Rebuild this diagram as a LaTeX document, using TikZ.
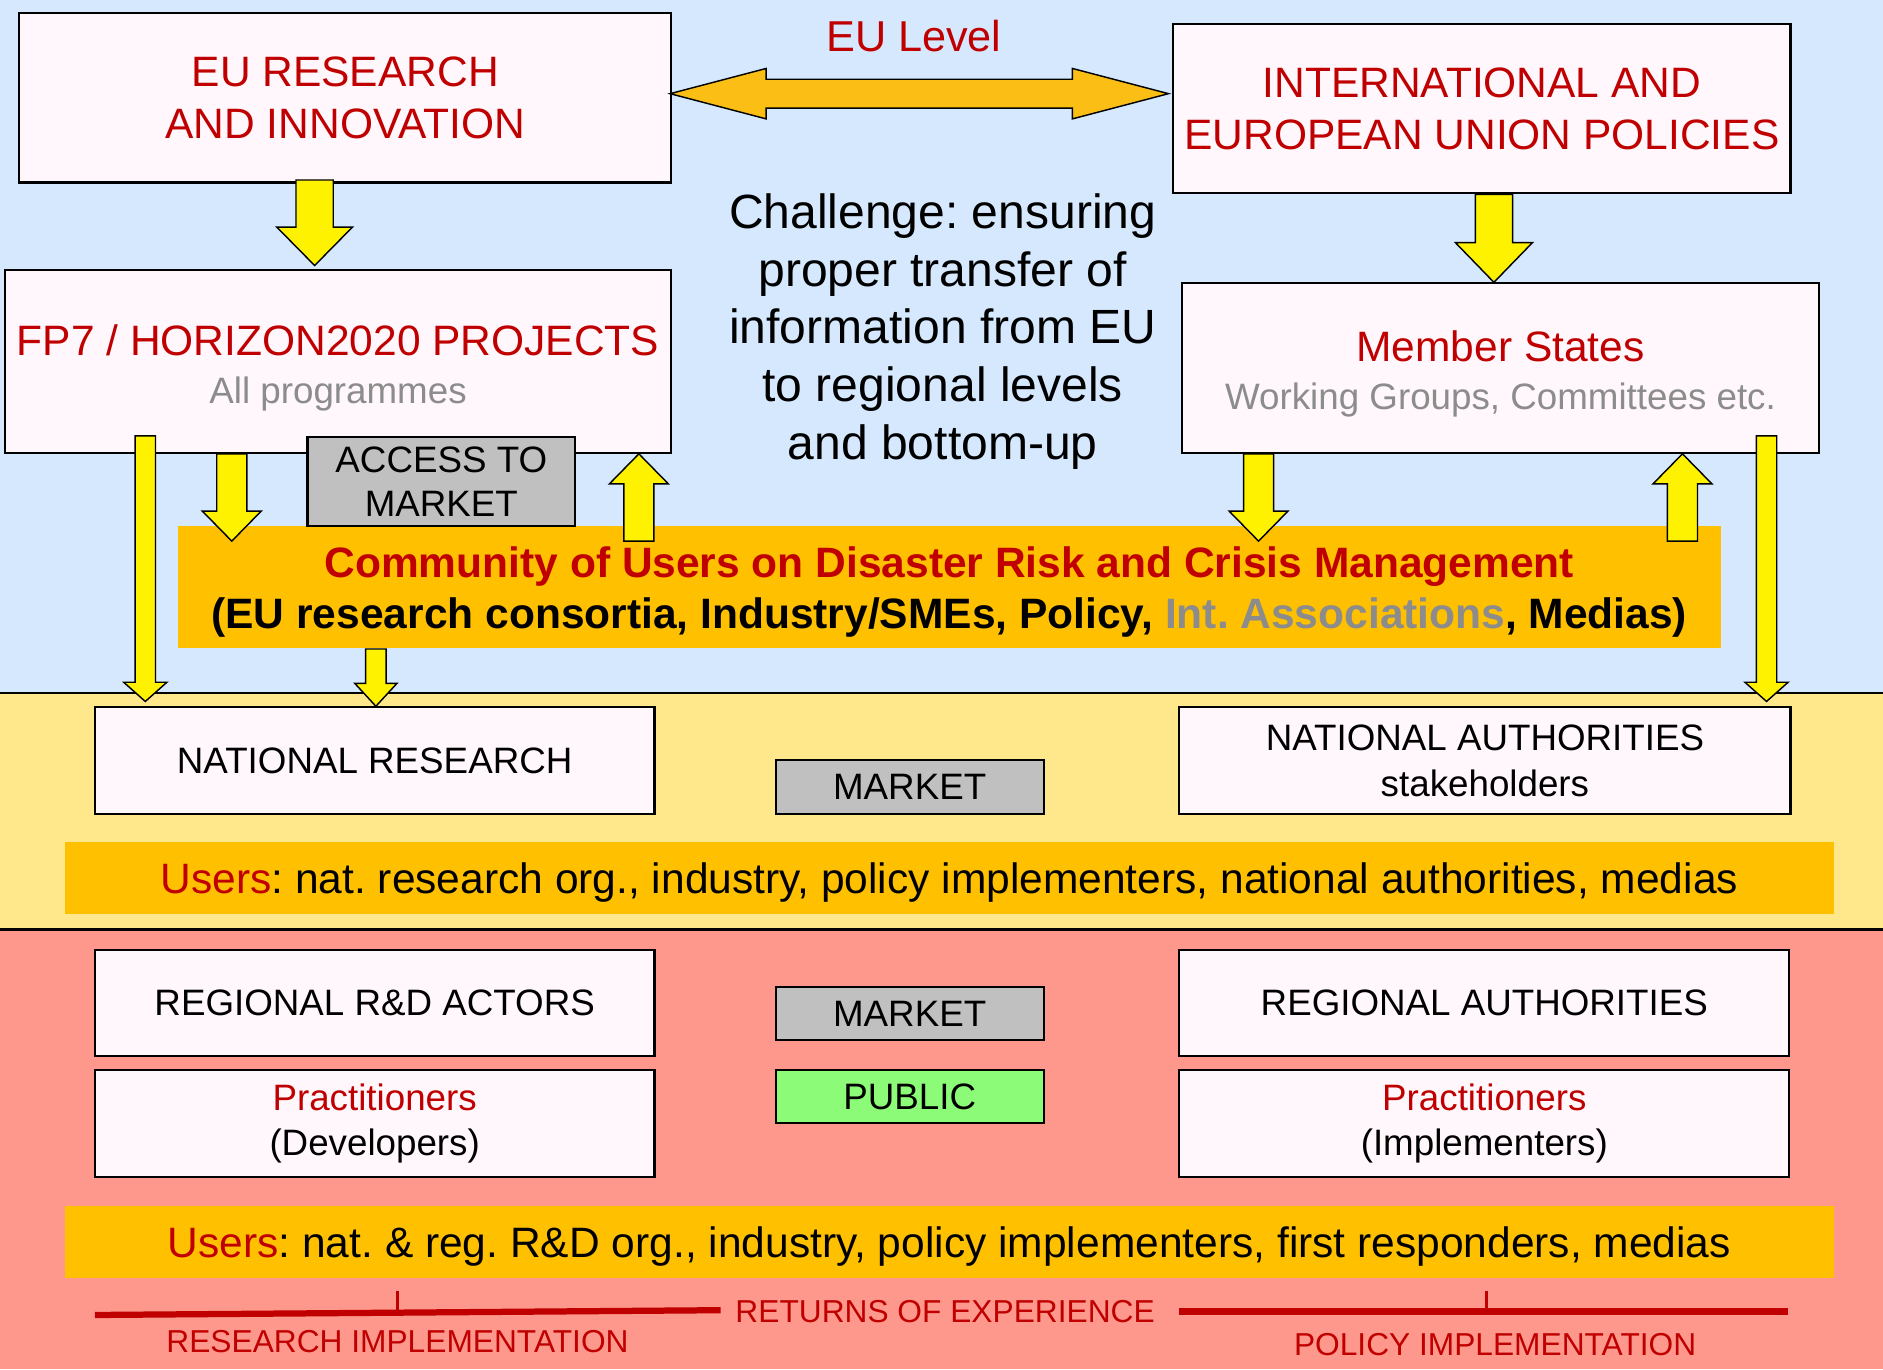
\documentclass[tikz,border=0pt]{standalone}
\usepackage{fontspec}
\setmainfont{Liberation Sans}
\usetikzlibrary{calc}
\frenchspacing
\definecolor{bgblue}{RGB}{213,232,253}
\definecolor{bgyel}{RGB}{255,232,140}
\definecolor{bgred}{RGB}{255,152,140}
\definecolor{boxfill}{RGB}{255,247,252}
\definecolor{dred}{RGB}{192,0,0}
\definecolor{bandcol}{RGB}{255,192,0}
\definecolor{dblcol}{RGB}{250,190,20}
\definecolor{gboxcol}{RGB}{192,192,192}
\definecolor{gtxt}{RGB}{140,140,140}
\definecolor{pgreen}{RGB}{140,252,120}
\newcommand\varrow[6]{%
 \path[barrow] let \p0=(#1,0), \p1=#2, \p2=#3, \n1={ifthenelse(\y2>\y1,1,-1)} in
 (\x0-#4,\y1) -- (\x0-#4,\y2-\n1*#6) -- (\x0-#5,\y2-\n1*#6) -- (\x0,\y2)
 -- (\x0+#5,\y2-\n1*#6) -- (\x0+#4,\y2-\n1*#6) -- (\x0+#4,\y1) -- cycle;}
\begin{document}
\begin{tikzpicture}[x=0.5pt,y=-0.5pt,
 box/.style={draw=black, line width=0.9pt, fill=boxfill, inner sep=0pt, align=center,
   font=\fontsize{15.3}{19}\selectfont},
 title/.style={font=\fontsize{17.7}{21.5}\selectfont, text=dred},
 graybox/.style={box, fill=gboxcol},
 bandbox/.style={fill=bandcol, inner sep=0pt},
 txt/.style={inner sep=0pt, align=center},
 barrow/.style={fill=yellow, draw=black, line width=0.6pt, line join=miter},
 dblarrow/.style={fill=dblcol, draw=black, line width=0.6pt},
 redline/.style={draw=dred, line width=2.6pt},
 redtick/.style={draw=dred, line width=1.1pt},
 redlabel/.style={text=dred, inner sep=1pt, font=\fontsize{13.2}{15}\selectfont}]
\useasboundingbox (0,0) rectangle (1568,1140);
% backgrounds
\fill[bgblue] (0,0) rectangle (1568,577);
\fill[bgyel] (0,577) rectangle (1568,774);
\fill[bgred] (0,774) rectangle (1568,1140);
\draw[line width=1pt] (0,577) -- (1568,577);
\draw[line width=1pt] (0,774) -- (1568,774);
% EU level
\node[box, title, minimum width=271.5pt, minimum height=70.5pt] (eu) at (287.5,81.5) {EU RESEARCH\\AND INNOVATION};
\node[box, title, minimum width=257pt, minimum height=70.5pt] (intl) at (1234,90.5) {INTERNATIONAL AND\\EUROPEAN UNION POLICIES};
\node[text=dred, font=\fontsize{18}{21}\selectfont] (eulevel) at (761,30) {EU Level};
\coordinate (dal) at (558,78);
\coordinate (dar) at (973,78);
\path[dblarrow] (dal) -- (638,57) -- (638,66) -- (893,66) -- (893,57) -- (dar)
  -- (893,99) -- (893,90) -- (638,90) -- (638,99) -- cycle;
\node[box, minimum width=277.5pt, minimum height=76pt] (fp7) at (281.5,301) {};
\node[txt, font=\fontsize{15.3}{20}\selectfont] (fp7txt) at ([yshift=-2.5pt]fp7.center)
  {{\color{dred}\fontsize{17.7}{20}\selectfont FP7 / HORIZON2020 PROJECTS}\\{\color{gtxt}All programmes}};
\node[box, minimum width=265.5pt, minimum height=70.5pt] (ms) at (1249.5,306.5) {};
\node[txt, font=\fontsize{15.3}{20}\selectfont] (mstxt) at ([yshift=-2.5pt]ms.center)
  {{\color{dred}\fontsize{17.7}{20}\selectfont Member States}\\{\color{gtxt}Working Groups, Committees etc.}};
\node[align=center, font=\fontsize{20}{24}\selectfont] (challenge) at (785,276)
  {Challenge: ensuring\\proper transfer of\\information from EU\\to regional levels\\and bottom-up};
\varrow{262}{([yshift=1.5pt]eu.south)}{([yshift=1.5pt]fp7.north)}{7.75pt}{15.75pt}{16pt}
\varrow{1244}{(intl.south)}{(ms.north)}{7.75pt}{16pt}{16.5pt}
% community band
\node[bandbox, minimum width=642.5pt, minimum height=51pt] (comm) at (790.5,489) {};
\node[txt, font=\fontsize{17.7}{21.5}\selectfont\bfseries] (commtxt) at ([yshift=-2pt]comm.center)
  {{\color{dred}Community of Users on Disaster Risk and Crisis Management}\\(EU research consortia, Industry/SMEs, Policy, {\color{gtxt}Int. Associations}, Medias)};
\node[graybox, minimum width=111.5pt, minimum height=37pt, font=\fontsize{15.3}{18}\selectfont] (access) at (367.5,401) {ACCESS TO\\MARKET};
\varrow{193}{(fp7.south)}{([yshift=-6.5pt]comm.north)}{6.25pt}{12.25pt}{12.5pt}
\varrow{532}{([yshift=-6.5pt]comm.north)}{(fp7.south)}{6.25pt}{12.25pt}{12.5pt}
\varrow{1048}{(ms.south)}{([yshift=-6.5pt]comm.north)}{6.25pt}{12.25pt}{12.5pt}
\varrow{1401}{([yshift=-6.5pt]comm.north)}{(ms.south)}{6.25pt}{12.25pt}{12.5pt}
% national level
\node[box, minimum width=233pt, minimum height=44.5pt] (natres) at (312,633.5) {NATIONAL RESEARCH};
\node[graybox, minimum width=111.5pt, minimum height=22.5pt] (market1) at (757.5,655.5) {MARKET};
\node[box, minimum width=254.5pt, minimum height=44.5pt] (natauth) at (1236.5,633.5) {NATIONAL AUTHORITIES\\stakeholders};
\varrow{121}{([yshift=7.5pt]fp7.south)}{([yshift=2pt]natres.north)}{4.25pt}{9pt}{8pt}
\varrow{1471}{([yshift=7.5pt]ms.south)}{([yshift=2pt]natauth.north)}{4.25pt}{9pt}{8pt}
\varrow{313}{(comm.south)}{(natres.north)}{4.25pt}{8.75pt}{9.5pt}
\node[bandbox, minimum width=736.5pt, minimum height=30pt] (users1) at (790.5,731) {};
\node[txt, font=\fontsize{17.7}{20}\selectfont] (users1txt) at ([yshift=-2pt]users1.center)
  {{\color{dred}Users}: nat. research org., industry, policy implementers, national authorities, medias};
% regional level
\node[box, minimum width=233pt, minimum height=44pt] (regrd) at (312,835) {REGIONAL R\&D ACTORS};
\node[graybox, minimum width=111.5pt, minimum height=22pt] (market2) at (757.5,844) {MARKET};
\node[box, minimum width=254pt, minimum height=44pt] (regauth) at (1236,835) {REGIONAL AUTHORITIES};
\node[box, minimum width=233pt, minimum height=44.5pt] (pracdev) at (312,935.5) {{\color{dred}Practitioners}\\(Developers)};
\node[box, fill=pgreen, minimum width=111.5pt, minimum height=22pt] (public) at (757.5,913) {PUBLIC};
\node[box, minimum width=254pt, minimum height=44.5pt] (pracimp) at (1236,935.5) {{\color{dred}Practitioners}\\(Implementers)};
\node[bandbox, minimum width=736.5pt, minimum height=30pt] (users2) at (790.5,1034) {};
\node[txt, font=\fontsize{17.7}{20}\selectfont] (users2txt) at ([yshift=-2pt]users2.center)
  {{\color{dred}Users}: nat. \& reg. R\&D org., industry, policy implementers, first responders, medias};
% returns of experience
\node[redlabel, inner xsep=6pt] (returns) at (787,1092) {RETURNS OF EXPERIENCE};
\node[redlabel] (resimp) at (331,1117) {RESEARCH IMPLEMENTATION};
\node[redlabel] (polimp) at (1245,1119.5) {POLICY IMPLEMENTATION};
\coordinate (rl) at (79,1095);
\coordinate (rr) at (1489,1092);
\draw[redline] (rl) -- (returns.west |- 0,1091);
\draw[redline] ([xshift=4pt]returns.east |- 0,1092) -- (rr);
\draw[redtick] (331,1093) -- (331,1075);
\draw[redtick] (1238,1092) -- (1238,1075);
\end{tikzpicture}
\end{document}
